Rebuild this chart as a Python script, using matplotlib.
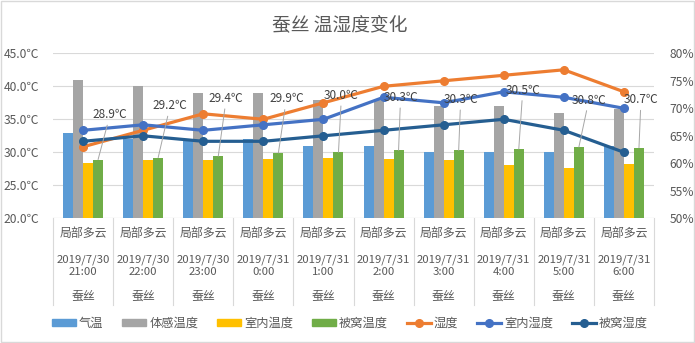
import numpy as np
import matplotlib
matplotlib.use("Agg")
import matplotlib.pyplot as plt
from matplotlib.patches import Patch
from matplotlib.lines import Line2D
from matplotlib.ticker import FuncFormatter

plt.rcParams['font.family'] = ['Noto Sans CJK SC', 'DejaVu Sans']

title = "蚕丝 温湿度变化"
weather = ["局部多云"] * 10
dates = ["2019/7/30", "2019/7/30", "2019/7/30", "2019/7/31", "2019/7/31",
         "2019/7/31", "2019/7/31", "2019/7/31", "2019/7/31", "2019/7/31"]
times = ["21:00", "22:00", "23:00", "0:00", "1:00", "2:00", "3:00", "4:00", "5:00", "6:00"]
material = ["蚕丝"] * 10

air_temp = [33, 32, 32, 32, 31, 31, 30, 30, 30, 31]
feel_temp = [41, 40, 39, 39, 38, 38, 37, 37, 36, 36.6]
indoor_temp = [28.4, 28.8, 28.8, 29.0, 29.1, 29.0, 28.8, 28.1, 27.6, 28.2]
quilt_temp = [28.9, 29.2, 29.4, 29.9, 30.0, 30.3, 30.3, 30.5, 30.8, 30.7]
humidity = [63, 66, 69, 68, 71, 74, 75, 76, 77, 73]
indoor_hum = [66, 67, 66, 67, 68, 72, 71, 73, 72, 70]
quilt_hum = [64, 65, 64, 64, 65, 66, 67, 68, 66, 62]

bar_names = ["气温", "体感温度", "室内温度", "被窝温度"]
line_names = ["湿度", "室内湿度", "被窝湿度"]
bar_colors = ["#5B9BD5", "#A5A5A5", "#FFC000", "#70AD47"]
line_colors = ["#ED7D31", "#4472C4", "#255E91"]

# label offsets (pixels) for data labels of 被窝温度
lab_dx = [12, 12, 8, 8, 3, 2, 2, 4, 10, 2]
lab_dy = [45, 52, 58, 54, 57, 53, 51, 59, 47, 48]

W, H = 695, 343
fig = plt.figure(figsize=(W / 100, H / 100), dpi=100)
fig.patch.set_facecolor("white")
fig.add_artist(plt.Rectangle((0.001, 0.002), 0.997, 0.995, transform=fig.transFigure,
                             fill=False, edgecolor="#d9d9d9", lw=1))

L, R, B, T = 53, 654, 218.3, 53.3
ax = fig.add_axes([L / W, 1 - B / H, (R - L) / W, (B - T) / H])
ax2 = ax.twinx()

n = len(air_temp)
x = np.arange(n)
w = 1 / 6
series = [air_temp, feel_temp, indoor_temp, quilt_temp]
for i, (s, c) in enumerate(zip(series, bar_colors)):
    ax.bar(x + (i - 1.5) * w, s, width=w, color=c, zorder=3)

ax.set_xlim(-0.5, n - 0.5)
ax.set_ylim(20, 45)
ax.set_yticks(np.arange(20, 46, 5))
ax.yaxis.set_major_formatter(FuncFormatter(lambda v, p: f"{v:.1f}℃"))
ax.grid(axis="y", color="#d9d9d9", lw=0.8, zorder=0)
ax.set_axisbelow(True)
ax.set_xticks([])
for sp in ax.spines.values():
    sp.set_visible(False)
for sp in ax2.spines.values():
    sp.set_visible(False)
ax.tick_params(axis="y", length=0, labelsize=8.7, labelcolor="#595959", pad=10)

lines_data = [humidity, indoor_hum, quilt_hum]
for s, c in zip(lines_data, line_colors):
    ax2.plot(x, np.array(s) / 100, color=c, lw=2.3, marker="o", ms=5.5, zorder=4)
ax2.set_ylim(0.5, 0.8)
ax2.set_yticks(np.arange(0.5, 0.801, 0.05))
ax2.yaxis.set_major_formatter(FuncFormatter(lambda v, p: f"{v*100:.0f}%"))
ax2.tick_params(axis="y", length=0, labelsize=8.7, labelcolor="#595959", pad=11)

# data labels for 被窝温度
for i, v in enumerate(quilt_temp):
    ax2.annotate(f"{v:.1f}℃", xy=(x[i] + 1.5 * w, v), xycoords=ax.transData,
                 xytext=(lab_dx[i], lab_dy[i]), textcoords="offset pixels",
                 ha="center", va="center", fontsize=8.5, color="#404040", zorder=6,
                 arrowprops=dict(arrowstyle="-", color="#a6a6a6", lw=0.7,
                                 shrinkA=1, shrinkB=0))

# bottom axis line
ax.axhline(20, color="#d9d9d9", lw=0.8, zorder=2)

# multi-level category labels
tr = ax.get_xaxis_transform()
ah = B - T
def ypos(py):
    return (B - py) / ah
for i in range(n):
    ax.text(x[i], ypos(234), weather[i], transform=tr, ha="center", va="center",
            fontsize=8.6, color="#595959", clip_on=False)
    ax.text(x[i], ypos(259.5), dates[i], transform=tr, ha="center", va="center",
            fontsize=8.2, color="#595959", clip_on=False)
    ax.text(x[i], ypos(272), times[i], transform=tr, ha="center", va="center",
            fontsize=8.2, color="#595959", clip_on=False)
    ax.text(x[i], ypos(296), material[i], transform=tr, ha="center", va="center",
            fontsize=8.6, color="#595959", clip_on=False)
for b in np.arange(-0.5, n, 1.0):
    ax.plot([b, b], [0, ypos(305)], transform=tr, color="#d9d9d9", lw=0.8, clip_on=False)

fig.text(340 / W, 1 - 25 / H, title, ha="center", va="center", fontsize=13.5, color="#595959")

handles = [Patch(color=c) for c in bar_colors] + \
          [Line2D([0], [0], color=c, lw=2.3, marker="o", ms=5.5) for c in line_colors]
fig.legend(handles, bar_names + line_names, loc="center", bbox_to_anchor=(350 / W, 1 - 323 / H),
           ncol=7, frameon=False, fontsize=8.8, handlelength=1.95, handleheight=0.5,
           columnspacing=1.55, handletextpad=0.25, labelcolor="#595959")

fig.savefig("out.png", dpi=100)
